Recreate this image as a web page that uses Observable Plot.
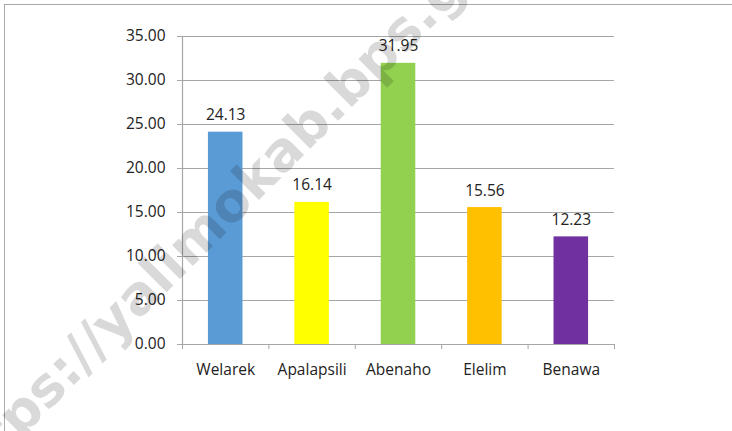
<!DOCTYPE html>
<html>
<head>
<meta charset="utf-8">
<script src="https://cdn.jsdelivr.net/npm/d3@7"></script>
<script src="https://cdn.jsdelivr.net/npm/@observablehq/plot@0.6"></script>
<style>
  html, body { margin: 0; padding: 0; background: #fff; overflow: hidden; }
  #wrap { position: relative; width: 732px; height: 431px; overflow: hidden; }
  #border { position: absolute; left: 4px; top: 4px; width: 760px; height: 460px; border: 1.5px solid #a9a9a9; box-sizing: border-box; pointer-events: none; }
  #chart { position: absolute; left: 0; top: 0; }
  #wm { position: absolute; left: 0; top: 0; pointer-events: none; }
</style>
</head>
<body>
<div id="wrap">
  <div id="border"></div>
  <div id="chart"></div>
  <svg id="wm" width="732" height="431">
    <text x="-44" y="503" text-anchor="start"
      transform="rotate(-45 -44 503)"
      style="font-family: 'DejaVu Sans', sans-serif; font-weight: bold; font-size: 54px; fill: rgba(0,0,0,0.15);">https://yalimokab.bps.go.id</text>
  </svg>
</div>
<script>
const categories = ["Welarek", "Apalapsili", "Abenaho", "Elelim", "Benawa"];
const values = [24.13, 16.14, 31.95, 15.56, 12.23];
const colors = ["#5B9BD5", "#FFFF00", "#92D050", "#FFC000", "#7030A0"];
const yTicks = [0, 5, 10, 15, 20, 25, 30, 35];

const data = categories.map((c, i) => ({ name: c, value: values[i], color: colors[i], i }));
const font = "'Open Sans', sans-serif";
const textColor = "#222222";
const gridColor = "#a6a6a6";

const chart = Plot.plot({
  width: 732,
  height: 431,
  marginLeft: 182,
  marginRight: 118,
  marginTop: 36,
  marginBottom: 87,
  style: { fontFamily: font, fontSize: "15px", color: textColor, background: "transparent" },
  x: { type: "linear", domain: [0, categories.length] },
  y: { domain: [0, 35] },
  marks: [
    Plot.gridY(yTicks, { stroke: gridColor, strokeOpacity: 1, strokeWidth: 1.2 }),
    Plot.axisY(yTicks, {
      tickSize: 5, tickPadding: 12, stroke: gridColor, strokeOpacity: 1,
      tickFormat: d3.format(".2f"), label: null, fill: textColor, fontSize: 15.5
    }),
    Plot.rectY(data, {
      x1: d => d.i + 0.3, x2: d => d.i + 0.7, y1: 0, y2: "value",
      fill: d => d.color
    }),
    Plot.ruleX([0], { stroke: gridColor, strokeWidth: 1.2 }),
    Plot.ruleY([0], { stroke: gridColor, strokeWidth: 1.2 }),
    Plot.axisX(d3.range(categories.length + 1), {
      tickSize: 5, stroke: gridColor, strokeOpacity: 1, tickFormat: () => "", label: null
    }),
    Plot.axisX(data.map(d => d.i + 0.5), {
      tickSize: 0, tickPadding: 19, tickFormat: v => categories[Math.round(v - 0.5)],
      label: null, fill: textColor, fontSize: 15.5
    }),
    Plot.text(data, {
      x: d => d.i + 0.5, y: "value", text: d => d3.format(".2f")(d.value),
      dy: -17, fill: textColor, fontSize: 15.5
    })
  ]
});
document.getElementById("chart").appendChild(chart);
</script>
</body>
</html>
